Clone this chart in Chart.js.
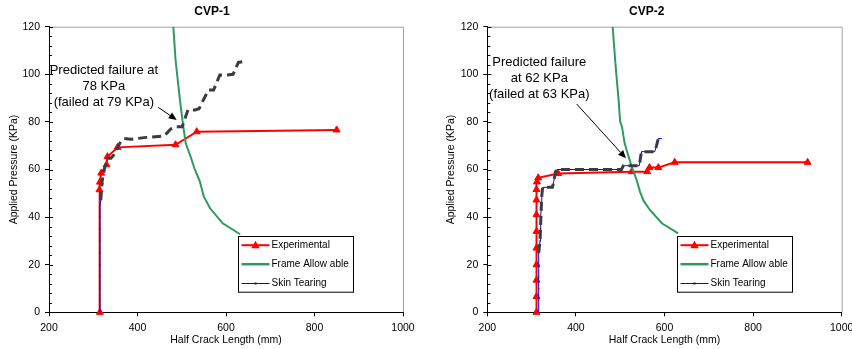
<!DOCTYPE html>
<html><head><meta charset="utf-8">
<script src="https://cdn.jsdelivr.net/npm/chart.js@4/dist/chart.umd.min.js"></script>
<style>
html,body{margin:0;padding:0;background:#fff;}
#wrap{position:relative;width:852px;height:349px;overflow:hidden;background:#fff;}
.panel{position:absolute;top:0;height:349px;}
</style></head><body>
<div id="wrap">
<div class="panel" style="left:0;width:426px"><canvas id="c1" width="426" height="349"></canvas></div>
<div class="panel" style="left:430px;width:440px"><canvas id="c2" width="440" height="349"></canvas></div>
</div>
<script>
// ---------- data ----------
const xTicks = [200, 400, 600, 800, 1000];
const yTicks = [0, 20, 40, 60, 80, 100, 120];
const seriesNames = ['Experimental', 'Frame Allow able', 'Skin Tearing'];

// CVP-1
const cvp1ExpX = [315, 314, 315, 318, 330, 332, 355, 486, 534, 850];
const cvp1ExpY = [0, 51.5, 54.7, 58.5, 62, 65.4, 69.3, 70.4, 75.9, 76.6];
const cvp1FrameX = [481, 486, 496, 503.5, 509, 520, 530, 541, 550, 564, 592.5, 632];
const cvp1FrameY = [120, 106, 89, 78, 71, 65.4, 59.8, 54.9, 48.6, 43.7, 37.4, 32.8];
const cvp1SkinX = [315, 315, 315, 315, 315, 315, 315, 315, 315, 315, 317];
const cvp1SkinY = [0, 5, 10, 15, 20, 25, 30, 35, 40, 45, 47];
const cvp1PredX = [317, 320, 325, 330, 334, 340, 346, 356, 362, 370, 385, 420, 458, 465, 475, 488, 501, 514, 530, 539, 560, 572, 586, 600, 616, 628, 638];
const cvp1PredY = [47, 55, 60, 63.5, 64.7, 64.7, 66, 69.6, 71.7, 73, 72.7, 73.5, 74, 75, 77, 78, 78, 85, 85, 85.5, 93.4, 93.4, 99.7, 99.7, 100, 105, 105.3];
const cvp1Note = ['Predicted failure at', '78 KPa', '(failed at 79 KPa)'];

// CVP-2
const cvp2ExpX = [311, 311, 311, 311, 311, 311, 311, 311, 311, 312, 315, 360, 526, 561, 566, 586, 623, 923];
const cvp2ExpY = [0, 6.6, 13.5, 20, 27, 34, 41, 47.2, 51.6, 54.8, 56.5, 58.3, 59.1, 59.1, 60.8, 60.8, 63, 63];
const cvp2FrameX = [483, 489, 496, 500, 504, 510, 518, 526, 537, 545, 553, 567, 594, 631];
const cvp2FrameY = [120, 105, 90, 80, 78, 71, 66, 61.2, 55.6, 50.5, 46.8, 43, 37.4, 33.2];
const cvp2SkinX = [316, 316, 316, 316, 316, 316, 319, 320, 321, 322, 323, 325, 335, 347, 350, 354, 357, 400, 450, 503, 507, 515, 543, 548, 578, 582, 586, 594];
const cvp2SkinY = [0, 5, 10, 15, 20, 25, 30, 35, 40, 45, 49, 52.5, 52.5, 52.5, 55, 59, 60, 60, 60, 60, 61.6, 61.6, 61.6, 67.5, 67.5, 70, 73, 73];
const cvp2PredX = [316, 319, 320, 321, 322, 323, 325, 335, 347, 350, 354, 357, 400, 450, 503, 507, 515, 543, 548, 578, 582, 586, 594];
const cvp2PredY = [25, 30, 35, 40, 45, 49, 52.5, 52.5, 52.5, 55, 59, 60, 60, 60, 60, 61.6, 61.6, 61.6, 67.5, 67.5, 70, 73, 73];
const cvp2Note = ['Predicted failure', 'at 62 KPa', '(failed at 63 KPa)'];

// ---------- helpers ----------
const FONT = "'Liberation Sans', Arial, Helvetica, sans-serif";
const RED = '#ff0000', GREEN = '#2f9a5f', BLUE = '#0000ff', DARK = '#3a3b44';
function pts(xs, ys) { return xs.map((x, i) => ({ x: x, y: ys[i] })); }

function drawTriangle(ctx, cx, cy, r) {
  ctx.beginPath();
  ctx.moveTo(cx, cy - r);
  ctx.lineTo(cx + r * 0.95, cy + r * 0.65);
  ctx.lineTo(cx - r * 0.95, cy + r * 0.65);
  ctx.closePath();
  ctx.fill();
}

const panels = [
  { id: 'c1', W: 426, plotLeft: 49, plotRight: 403, title: 'CVP-1', titleX: 212, yTitlePad: 8,
    exp: [cvp1ExpX, cvp1ExpY], frame: [cvp1FrameX, cvp1FrameY], skin: [cvp1SkinX, cvp1SkinY], pred: [cvp1PredX, cvp1PredY],
    note: cvp1Note, noteAt: { x: 324, y: 101.5 }, arrowFrom: { x: 447, y: 86.1 }, arrowTo: { x: 488.6, y: 80.8 } },
  { id: 'c2', W: 440, plotLeft: 57.3, plotRight: 411.7, title: 'CVP-2', titleX: 216.7, yTitlePad: 15,
    exp: [cvp2ExpX, cvp2ExpY], frame: [cvp2FrameX, cvp2FrameY], skin: [cvp2SkinX, cvp2SkinY], pred: [cvp2PredX, cvp2PredY],
    note: cvp2Note, noteAt: { x: 317.4, y: 104.8 }, arrowFrom: { x: 401.8, y: 87.5 }, arrowTo: { x: 513, y: 64.7 } }
];

const PLOT_TOP = 26.7, PLOT_BOTTOM = 312.3, H = 349;

const decorPlugin = {
  id: 'decor',
  beforeDatasetsDraw(chart) {
    const { ctx, chartArea: a } = chart;
    ctx.save();
    ctx.strokeStyle = '#a0a0a0';
    ctx.lineWidth = 1;
    ctx.beginPath();
    ctx.moveTo(a.left, a.top + 0.5);
    ctx.lineTo(a.right + 0.5, a.top + 0.5);
    ctx.lineTo(a.right + 0.5, a.bottom);
    ctx.stroke();
    ctx.restore();
  },
  afterDatasetsDraw(chart) {
    const p = chart.options.plugins.decor.panel;
    const { ctx } = chart;
    const xs = chart.scales.x, ys = chart.scales.y;
    ctx.save();
    ctx.fillStyle = '#000';
    ctx.font = '13px ' + FONT;
    ctx.textAlign = 'center';
    ctx.textBaseline = 'middle';
    const nx = xs.getPixelForValue(p.noteAt.x), ny = ys.getPixelForValue(p.noteAt.y);
    p.note.forEach((t, i) => ctx.fillText(t, nx, ny + i * 16));
    const x0 = xs.getPixelForValue(p.arrowFrom.x), y0 = ys.getPixelForValue(p.arrowFrom.y);
    const x1 = xs.getPixelForValue(p.arrowTo.x), y1 = ys.getPixelForValue(p.arrowTo.y);
    const ang = Math.atan2(y1 - y0, x1 - x0);
    const L = 8, Wd = 3.5;
    const bx = x1 - L * Math.cos(ang), by = y1 - L * Math.sin(ang);
    ctx.strokeStyle = '#000';
    ctx.lineWidth = 1;
    ctx.beginPath(); ctx.moveTo(x0, y0); ctx.lineTo(bx, by); ctx.stroke();
    ctx.fillStyle = '#000';
    ctx.beginPath();
    ctx.moveTo(x1, y1);
    ctx.lineTo(bx + Wd * Math.sin(ang), by - Wd * Math.cos(ang));
    ctx.lineTo(bx - Wd * Math.sin(ang), by + Wd * Math.cos(ang));
    ctx.closePath(); ctx.fill();
    ctx.restore();
  },
  afterDraw(chart) {
    const p = chart.options.plugins.decor.panel;
    const { ctx, chartArea: a } = chart;
    const ys = chart.scales.y;
    ctx.save();
    ctx.strokeStyle = '#000';
    ctx.lineWidth = 1;
    for (let v = 0; v <= 120; v += 4) {
      const py = Math.round(ys.getPixelForValue(v)) + 0.5;
      const len = (v % 20 === 0) ? 4 : 3;
      ctx.beginPath(); ctx.moveTo(a.left, py); ctx.lineTo(a.left + len, py); ctx.stroke();
    }
    ctx.fillStyle = '#000';
    ctx.font = 'bold 12px ' + FONT;
    ctx.textAlign = 'center';
    ctx.textBaseline = 'middle';
    ctx.fillText(p.title, p.titleX, 12);
    const bw = 115, bh = 55.7;
    const bx = Math.round(a.right - 50 - bw) + 0.5, by = Math.round(a.bottom - 21 - bh) + 0.5;
    ctx.fillStyle = '#fff';
    ctx.fillRect(bx, by, bw, bh);
    ctx.strokeStyle = '#000';
    ctx.lineWidth = 1;
    ctx.strokeRect(bx, by, bw, bh);
    const rows = [by + 8.7, by + 27.7, by + 46.4];
    const lx0 = bx + 3, lx1 = bx + 31, lc = bx + 17;
    ctx.strokeStyle = RED; ctx.lineWidth = 2;
    ctx.beginPath(); ctx.moveTo(lx0, rows[0]); ctx.lineTo(lx1, rows[0]); ctx.stroke();
    ctx.fillStyle = RED; drawTriangle(ctx, lc, rows[0], 4.5);
    ctx.strokeStyle = GREEN; ctx.lineWidth = 2.5;
    ctx.beginPath(); ctx.moveTo(lx0, rows[1]); ctx.lineTo(lx1, rows[1]); ctx.stroke();
    ctx.strokeStyle = BLUE; ctx.lineWidth = 1;
    ctx.beginPath(); ctx.moveTo(lx0, Math.round(rows[2]) + 0.5); ctx.lineTo(lx1, Math.round(rows[2]) + 0.5); ctx.stroke();
    ctx.fillStyle = '#222'; ctx.fillRect(lc - 1, Math.round(rows[2]) - 0.5, 2, 2);
    ctx.fillStyle = '#000';
    ctx.font = '10px ' + FONT;
    ctx.textAlign = 'left';
    ctx.textBaseline = 'middle';
    seriesNames.forEach((n, i) => ctx.fillText(n, bx + 33, rows[i]));
    ctx.restore();
  }
};

panels.forEach(p => {
  const datasets = [
    { label: 'pred', data: pts(p.pred[0], p.pred[1]), borderColor: DARK, borderWidth: 3, borderDash: [9, 5],
      pointRadius: 0, order: 0, tension: 0, fill: false },
    { label: seriesNames[2], data: pts(p.skin[0], p.skin[1]), borderColor: BLUE, borderWidth: 1,
      pointRadius: c => (c.raw && c.raw.y <= 45 ? 1 : 0), pointStyle: 'rect', pointBackgroundColor: '#333', pointBorderColor: '#333', pointBorderWidth: 0,
      order: 1, tension: 0, fill: false },
    { label: seriesNames[1], data: pts(p.frame[0], p.frame[1]), borderColor: GREEN, borderWidth: 2,
      pointRadius: 0, order: 2, tension: 0, fill: false },
    { label: seriesNames[0], data: pts(p.exp[0], p.exp[1]), borderColor: RED, borderWidth: 2,
      pointRadius: 4, pointStyle: 'triangle', pointBackgroundColor: RED, pointBorderColor: RED, pointBorderWidth: 1,
      order: 3, tension: 0, fill: false, clip: 8 }
  ];
  new Chart(document.getElementById(p.id), {
    type: 'scatter',
    data: { datasets: datasets.map(d => Object.assign({ showLine: true }, d)) },
    options: {
      responsive: false,
      animation: false,
      devicePixelRatio: 1,
      events: [],
      layout: { padding: { left: 0, top: PLOT_TOP, right: p.W - p.plotRight, bottom: 0 } },
      plugins: {
        legend: { display: false },
        title: { display: false },
        tooltip: { enabled: false },
        decor: { panel: p }
      },
      scales: {
        x: {
          type: 'linear', min: 200, max: 1000,
          afterBuildTicks: s => { s.ticks = xTicks.map(v => ({ value: v })); },
          afterFit: s => { s.height = H - PLOT_BOTTOM; },
          ticks: { color: '#000', font: { family: FONT, size: 10.5 }, padding: 6, maxRotation: 0, autoSkip: false, callback: v => String(v) },
          grid: { display: true, drawOnChartArea: false, drawTicks: true, tickLength: 4, tickColor: '#000' },
          border: { display: true, color: '#000', width: 1 },
          title: { display: true, text: 'Half Crack Length (mm)', color: '#000', font: { family: FONT, size: 10.5 }, padding: { top: 0, bottom: 3 } }
        },
        y: {
          type: 'linear', min: 0, max: 120,
          afterBuildTicks: s => { s.ticks = yTicks.map(v => ({ value: v })); },
          afterFit: s => { s.width = p.plotLeft; },
          ticks: { color: '#000', font: { family: FONT, size: 10.5 }, padding: 5, callback: v => String(v) },
          grid: { display: true, drawOnChartArea: false, drawTicks: true, tickLength: 4, tickColor: '#000' },
          border: { display: true, color: '#000', width: 1 },
          title: { display: true, text: 'Applied Pressure (KPa)', color: '#000', font: { family: FONT, size: 10.5 }, padding: { top: p.yTitlePad, bottom: 0 } }
        }
      }
    },
    plugins: [decorPlugin]
  });
});
</script>
</body></html>
